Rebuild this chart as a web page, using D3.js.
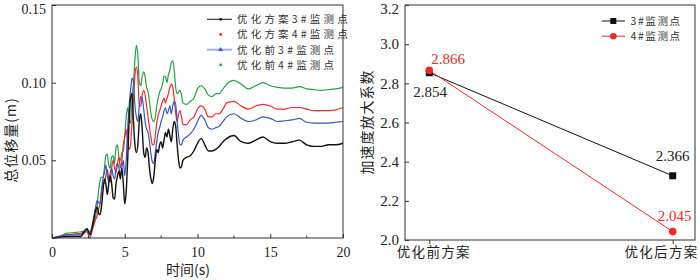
<!DOCTYPE html>
<html><head><meta charset="utf-8">
<script src="https://cdn.jsdelivr.net/npm/d3@7"></script>
<style>
html,body{margin:0;padding:0;background:#fff;}
svg{display:block;}
</style></head>
<body>
<svg id="c" width="700" height="280"></svg>
<script>
// ---------- Left chart data ----------
const times = [0,0.5,1,1.5,2,2.2,2.4,2.6,2.8,
 3.0,3.1,3.2,3.3,3.4,3.5,3.6,3.7,3.8,3.9,
 4.0,4.1,4.2,4.3,4.4,4.5,4.6,4.7,4.8,4.9,
 5.0,5.1,5.2,5.3,5.4,5.5,5.6,5.7,5.8,5.9,
 6.0,6.1,6.2,6.3,6.4,6.5,6.6,6.7,6.8,6.9,
 7.0,7.1,7.2,7.3,7.4,7.5,7.6,7.7,7.8,7.9,
 8.0,8.1,8.2,8.3,8.4,8.5,8.6,8.7,8.8,8.9,
 9.0,9.25,9.5,9.75,10,10.25,10.5,10.75,11,11.25,11.5,11.75,12,
 12.5,13,13.5,14,14.5,15,15.5,16,16.5,17,17.5,18,18.5,19,19.5,20];

const black3 = [0,0.0005,0.001,0.001,0.001,0.004,0.006,0.002,0.008,
 0.018,0.02,0.016,0.015,0.02,0.03,0.038,0.035,0.028,0.035,
 0.04,0.035,0.026,0.025,0.035,0.04,0.043,0.038,0.045,0.035,
 0.022,0.03,0.05,0.075,0.09,0.093,0.075,0.06,0.055,0.06,
 0.075,0.08,0.07,0.055,0.052,0.058,0.055,0.045,0.038,0.035,
 0.04,0.05,0.057,0.055,0.06,0.062,0.058,0.063,0.068,0.065,
 0.07,0.066,0.062,0.07,0.075,0.072,0.06,0.05,0.045,0.046,
 0.05,0.052,0.053,0.056,0.061,0.064,0.06,0.056,0.056,0.057,0.059,0.062,0.064,
 0.066,0.062,0.061,0.063,0.065,0.062,0.061,0.061,0.062,0.063,0.06,0.059,0.059,0.06,0.06,0.061];

const red4 = [0,0.001,0.002,0.0025,0.003,0.004,0.004,0.0,0.006,
 0.012,0.014,0.018,0.022,0.03,0.035,0.035,0.04,0.044,0.038,
 0.036,0.045,0.05,0.045,0.042,0.048,0.052,0.045,0.05,0.06,
 0.065,0.07,0.062,0.057,0.06,0.075,0.09,0.105,0.11,0.104,
 0.085,0.085,0.092,0.095,0.092,0.085,0.078,0.071,0.065,0.06,
 0.06,0.066,0.074,0.079,0.082,0.085,0.088,0.09,0.087,0.09,
 0.093,0.097,0.099,0.097,0.09,0.08,0.075,0.08,0.082,0.078,
 0.073,0.073,0.076,0.078,0.083,0.085,0.083,0.078,0.078,0.08,0.08,0.083,0.087,
 0.088,0.085,0.083,0.085,0.086,0.085,0.083,0.083,0.084,0.084,0.083,0.082,0.082,0.082,0.0825,0.084];

const blue3 = [0,0.001,0.002,0.002,0.002,0.003,0.005,0.003,0.01,
 0.02,0.024,0.023,0.022,0.03,0.038,0.042,0.047,0.04,0.036,
 0.042,0.045,0.04,0.038,0.045,0.048,0.045,0.04,0.045,0.05,
 0.04,0.05,0.07,0.085,0.095,0.103,0.1,0.085,0.078,0.075,
 0.085,0.091,0.09,0.083,0.075,0.07,0.068,0.062,0.054,0.049,
 0.048,0.055,0.062,0.068,0.071,0.075,0.078,0.082,0.084,0.08,
 0.082,0.085,0.08,0.085,0.088,0.086,0.075,0.066,0.06,0.06,
 0.063,0.065,0.067,0.07,0.075,0.079,0.076,0.071,0.07,0.071,0.072,0.075,0.078,
 0.08,0.077,0.075,0.076,0.078,0.077,0.075,0.0755,0.076,0.077,0.0745,0.074,0.074,0.074,0.0745,0.075];

const green4 = [0,0.001,0.003,0.0035,0.004,0.0045,0.006,0.004,0.008,
 0.014,0.02,0.03,0.037,0.039,0.039,0.045,0.053,0.054,0.047,
 0.045,0.052,0.053,0.048,0.058,0.06,0.052,0.05,0.055,0.056,
 0.066,0.078,0.084,0.076,0.074,0.09,0.1,0.115,0.124,0.118,
 0.1,0.098,0.104,0.107,0.104,0.097,0.094,0.088,0.08,0.076,
 0.075,0.078,0.085,0.09,0.094,0.096,0.099,0.104,0.104,0.1,
 0.105,0.108,0.113,0.114,0.108,0.097,0.093,0.094,0.095,0.092,
 0.087,0.086,0.088,0.09,0.096,0.098,0.096,0.092,0.091,0.093,0.093,0.096,0.099,
 0.1015,0.099,0.096,0.098,0.1,0.098,0.097,0.0965,0.0965,0.0975,0.096,0.0955,0.095,0.0955,0.096,0.097];

const leftNames = ["优化方案3#监测点","优化方案4#监测点","优化前3#监测点","优化前4#监测点"];
const leftXTicks = [0,5,10,15,20];
const leftXMinor = [2.5,7.5,12.5,17.5];
const leftYTicks = [0.05,0.10,0.15];

// ---------- Right chart data ----------
const schemes = ["优化前方案","优化后方案"];
const pt3 = [2.854, 2.328];
const pt4 = [2.866, 2.043];
const lab3 = ["2.854","2.366"];
const lab4 = ["2.866","2.045"];
const rightNames = ["3#监测点","4#监测点"];
const rightYTicks = [2.0,2.2,2.4,2.6,2.8,3.0,3.2];

// ---------- Drawing ----------
const svg = d3.select("#c");
const serif = "'Times New Roman','Liberation Serif','DejaVu Serif',serif";
const cjk = "'Noto Sans CJK SC','Noto Sans',sans-serif";
const COL = {black:"#111111", red:"#ec2a2a", blue:"#3556bb", green:"#25a045"};

// Left chart
const L = {x0:52, x1:343, y0:5, y1:238};
const xL = d3.scaleLinear().domain([0,20]).range([L.x0, L.x1]);
const yL = d3.scaleLinear().domain([0,0.15]).range([L.y1, L.y0]);
const gL = svg.append("g");

const leftSeries = [
  {name:leftNames[0], v:black3, c:COL.black},
  {name:leftNames[1], v:red4, c:COL.red},
  {name:leftNames[2], v:blue3, c:COL.blue},
  {name:leftNames[3], v:green4, c:COL.green}
];
const line = d3.line().x(d=>xL(d[0])).y(d=>yL(d[1])).curve(d3.curveMonotoneX);
[3,1,2,0].forEach(i=>{
  const s = leftSeries[i];
  gL.append("path").datum(times.map((t,k)=>[t,s.v[k]]))
    .attr("d", line).attr("fill","none").attr("stroke", s.c)
    .attr("stroke-width", i===0?1.4:1.2).attr("stroke-linejoin","round");
});

gL.append("rect").attr("x",L.x0).attr("y",L.y0).attr("width",L.x1-L.x0).attr("height",L.y1-L.y0)
  .attr("fill","none").attr("stroke","#333").attr("stroke-width",1);

const axL = gL.append("g").attr("transform",`translate(0,${L.y1})`)
  .call(d3.axisBottom(xL).tickValues(leftXTicks).tickSize(-4).tickPadding(9).tickFormat(d3.format("d")));
axL.select(".domain").remove();
axL.selectAll("line").attr("stroke","#333");
axL.selectAll("text").style("font-family",serif).style("font-size","14px").attr("fill","#222");
gL.append("g").selectAll("line").data(leftXMinor).join("line")
  .attr("x1",d=>xL(d)).attr("x2",d=>xL(d)).attr("y1",L.y1).attr("y2",L.y1-2.5).attr("stroke","#333");

const ayL = gL.append("g").attr("transform",`translate(${L.x0},0)`)
  .call(d3.axisLeft(yL).tickValues(leftYTicks).tickSize(-4).tickPadding(6).tickFormat(d3.format(".2f")));
ayL.select(".domain").remove();
ayL.selectAll("line").attr("stroke","#333");
ayL.selectAll("text").style("font-family",serif).style("font-size","14px").attr("fill","#222")
  .attr("dy",(d)=> d===0.15 ? "0.6em" : "0.32em");

gL.append("text").attr("x",188).attr("y",275).attr("text-anchor","middle")
  .style("font-family",cjk).style("font-size","14px").attr("fill","#222").text("时间(s)");
gL.append("text").attr("transform","translate(16,140) rotate(-90)").attr("text-anchor","middle")
  .style("font-family",cjk).style("font-size","14px").style("letter-spacing","1px").attr("fill","#222").text("总位移量(m)");

// left legend
const legL = gL.append("g");
const legRows = [19.3,34.5,49.7,64.9];
leftSeries.forEach((s,i)=>{
  const y = legRows[i];
  if (i===0) {
    legL.append("line").attr("x1",207).attr("x2",232).attr("y1",y).attr("y2",y).attr("stroke",s.c).attr("stroke-width",1);
    legL.append("rect").attr("x",219.5).attr("y",y-1.2).attr("width",2.4).attr("height",2.4).attr("fill",s.c);
  } else if (i===2) {
    legL.append("line").attr("x1",207).attr("x2",232).attr("y1",y).attr("y2",y).attr("stroke","#9db0e0").attr("stroke-width",2);
    legL.append("path").attr("d",d3.symbol(d3.symbolTriangle,10)()).attr("transform",`translate(220.5,${y})`).attr("fill",s.c);
  } else {
    legL.append("circle").attr("cx",220.7).attr("cy",y).attr("r",1.4).attr("fill",s.c);
  }
  legL.append("text").attr("x",237).attr("y",y+3.8).style("font-family",cjk).style("font-size","10.5px")
    .style("letter-spacing","3.2px").attr("fill","#333").text(s.name);
});

// Right chart
const R = {x0:405, x1:695, y0:5, y1:240};
const xR = d3.scalePoint().domain(schemes).range([429.3, 672.7]);
const yR = d3.scaleLinear().domain([2.0,3.2]).range([R.y1, R.y0]);
const gR = svg.append("g");

gR.append("rect").attr("x",R.x0).attr("y",R.y0).attr("width",R.x1-R.x0).attr("height",R.y1-R.y0)
  .attr("fill","none").attr("stroke","#333").attr("stroke-width",1);

const ayR = gR.append("g").attr("transform",`translate(${R.x0},0)`)
  .call(d3.axisLeft(yR).tickValues(rightYTicks).tickSize(-4).tickPadding(6).tickFormat(d3.format(".1f")));
ayR.select(".domain").remove();
ayR.selectAll("line").attr("stroke","#333");
ayR.selectAll("text").style("font-family",serif).style("font-size","15px").attr("fill","#222")
  .attr("dy",(d)=> d===3.2 ? "0.55em" : "0.32em");

const axR = gR.append("g").attr("transform",`translate(0,${R.y1})`)
  .call(d3.axisBottom(xR).tickSize(4).tickPadding(3));
axR.select(".domain").remove();
axR.selectAll("line").attr("stroke","#333");
axR.selectAll("text").style("font-family",cjk).style("font-size","13.5px").attr("fill","#222")
  .style("letter-spacing","1.3px")
  .attr("text-anchor",(d,i)=> i===schemes.length-1 ? "end" : "middle")
  .attr("x",(d,i)=> i===schemes.length-1 ? (698 - xR(d)) : 4);

gR.append("text").attr("transform","translate(372,122) rotate(-90)").attr("text-anchor","middle")
  .style("font-family",cjk).style("font-size","14px").style("letter-spacing","1px").attr("fill","#222").text("加速度放大系数");

const lineR = d3.line().x((d,i)=>xR(schemes[i])).y(d=>yR(d));
gR.append("path").datum(pt3).attr("d",lineR).attr("fill","none").attr("stroke","#111").attr("stroke-width",1);
gR.append("path").datum(pt4).attr("d",lineR).attr("fill","none").attr("stroke",COL.red).attr("stroke-width",1);
gR.selectAll(".sq").data(pt3).join("rect").attr("class","sq")
  .attr("x",(d,i)=>xR(schemes[i])-3.5).attr("y",d=>yR(d)-3.5).attr("width",7).attr("height",7).attr("fill","#111");
gR.selectAll(".ci").data(pt4).join("circle").attr("class","ci")
  .attr("cx",(d,i)=>xR(schemes[i])).attr("cy",d=>yR(d)).attr("r",3.8).attr("fill",COL.red);

const labPos3 = [{dx:-16, dy:24},{dx:-17, dy:-15}];
const labPos4 = [{dx:2, dy:-6},{dx:-15, dy:-11}];
pt3.forEach((v,i)=>{
  gR.append("text").attr("x",xR(schemes[i])+labPos3[i].dx).attr("y",yR(v)+labPos3[i].dy)
    .style("font-family",serif).style("font-size","15px").attr("fill","#222").text(lab3[i]);
});
pt4.forEach((v,i)=>{
  gR.append("text").attr("x",xR(schemes[i])+labPos4[i].dx).attr("y",yR(v)+labPos4[i].dy)
    .style("font-family",serif).style("font-size","15px").attr("fill",COL.red).text(lab4[i]);
});

const legR = gR.append("g");
[{y:21,c:"#111",sq:true},{y:36.2,c:COL.red,sq:false}].forEach((o,i)=>{
  legR.append("line").attr("x1",601.7).attr("x2",625).attr("y1",o.y).attr("y2",o.y).attr("stroke",o.c).attr("stroke-width",1);
  if (o.sq) legR.append("rect").attr("x",610.3).attr("y",o.y-3).attr("width",6).attr("height",6).attr("fill",o.c);
  else legR.append("circle").attr("cx",613.3).attr("cy",o.y).attr("r",3.3).attr("fill",o.c);
  legR.append("text").attr("x",630.5).attr("y",o.y+3.8).style("font-family",cjk).style("font-size","10.5px")
    .style("letter-spacing","1.6px").attr("fill","#333").text(rightNames[i]);
});
</script>
</body></html>
